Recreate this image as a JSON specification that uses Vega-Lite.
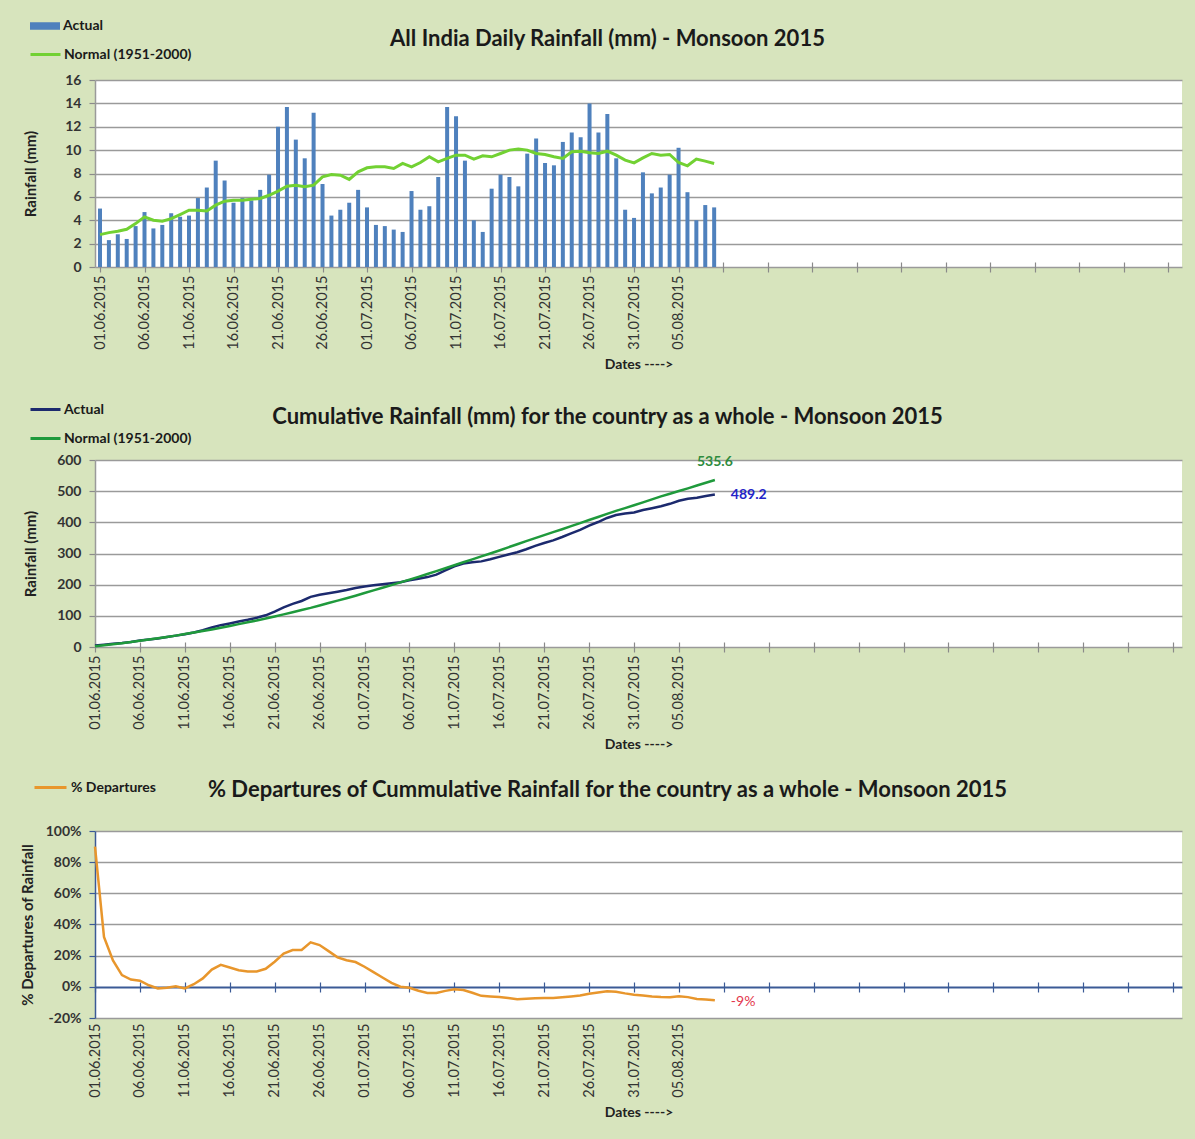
{
  "$schema": "https://vega.github.io/schema/vega-lite/v6.json",
  "background": "#d7e4bd",
  "padding": {"left": 20, "top": 10, "right": 15, "bottom": 40},
  "autosize": {"type": "pad"},
  "config": {
    "font": "Lato",
    "locale": {"number": {"decimal": ".", "thousands": ",", "grouping": [3], "currency": ["$", ""], "minus": "-"}},
    "view": {"fill": "white", "stroke": null},
    "axis": {
      "labelFont": "Lato", "titleFont": "Lato",
      "labelColor": "#333333", "titleColor": "#222222",
      "gridColor": "#9a9a9a", "gridWidth": 1.5,
      "domainColor": "#9a9a9a", "tickColor": "#8a8a8a", "domainWidth": 1.5, "tickWidth": 1.2,
      "labelOverlap": false
    },
    "title": {"font": "Lato", "fontSize": 22, "fontWeight": "bold", "color": "#1a1a1a", "anchor": "middle"},
    "legend": {"labelFont": "Lato", "labelFontSize": 14, "labelFontWeight": "bold", "labelColor": "#1a1a1a"}
  },
  "datasets": {
    "rain": [
      {"date": "2015-06-01", "actual": 5.0, "normal": 2.77, "cum_actual": 5.0, "cum_normal": 2.77, "departure": 0.90},
      {"date": "2015-06-02", "actual": 2.3, "normal": 2.94, "cum_actual": 7.3, "cum_normal": 5.71, "departure": 0.32},
      {"date": "2015-06-03", "actual": 2.8, "normal": 3.06, "cum_actual": 10.1, "cum_normal": 8.77, "departure": 0.17},
      {"date": "2015-06-04", "actual": 2.4, "normal": 3.23, "cum_actual": 12.5, "cum_normal": 12.0, "departure": 0.075},
      {"date": "2015-06-05", "actual": 3.5, "normal": 3.71, "cum_actual": 16.0, "cum_normal": 15.71, "departure": 0.047},
      {"date": "2015-06-06", "actual": 4.7, "normal": 4.29, "cum_actual": 20.7, "cum_normal": 20.0, "departure": 0.039},
      {"date": "2015-06-07", "actual": 3.3, "normal": 4.0, "cum_actual": 24.0, "cum_normal": 24.0, "departure": 0.01},
      {"date": "2015-06-08", "actual": 3.6, "normal": 3.91, "cum_actual": 27.6, "cum_normal": 27.91, "departure": -0.01},
      {"date": "2015-06-09", "actual": 4.6, "normal": 4.14, "cum_actual": 32.2, "cum_normal": 32.05, "departure": -0.006},
      {"date": "2015-06-10", "actual": 4.3, "normal": 4.49, "cum_actual": 36.5, "cum_normal": 36.54, "departure": 0.004},
      {"date": "2015-06-11", "actual": 4.4, "normal": 4.86, "cum_actual": 40.9, "cum_normal": 41.4, "departure": -0.01},
      {"date": "2015-06-12", "actual": 5.9, "normal": 4.86, "cum_actual": 46.8, "cum_normal": 46.26, "departure": 0.017},
      {"date": "2015-06-13", "actual": 6.8, "normal": 4.8, "cum_actual": 53.6, "cum_normal": 51.06, "departure": 0.054},
      {"date": "2015-06-14", "actual": 9.1, "normal": 5.29, "cum_actual": 62.7, "cum_normal": 56.35, "departure": 0.111},
      {"date": "2015-06-15", "actual": 7.4, "normal": 5.63, "cum_actual": 70.1, "cum_normal": 61.98, "departure": 0.141},
      {"date": "2015-06-16", "actual": 5.5, "normal": 5.71, "cum_actual": 75.6, "cum_normal": 67.69, "departure": 0.124},
      {"date": "2015-06-17", "actual": 5.9, "normal": 5.71, "cum_actual": 81.5, "cum_normal": 73.4, "departure": 0.107},
      {"date": "2015-06-18", "actual": 5.7, "normal": 5.8, "cum_actual": 87.2, "cum_normal": 79.2, "departure": 0.099},
      {"date": "2015-06-19", "actual": 6.6, "normal": 5.86, "cum_actual": 93.8, "cum_normal": 85.06, "departure": 0.099},
      {"date": "2015-06-20", "actual": 7.9, "normal": 6.14, "cum_actual": 101.7, "cum_normal": 91.2, "departure": 0.116},
      {"date": "2015-06-21", "actual": 12.0, "normal": 6.49, "cum_actual": 113.7, "cum_normal": 97.69, "departure": 0.161},
      {"date": "2015-06-22", "actual": 13.7, "normal": 6.91, "cum_actual": 127.4, "cum_normal": 104.6, "departure": 0.214},
      {"date": "2015-06-23", "actual": 10.9, "normal": 7.0, "cum_actual": 138.3, "cum_normal": 111.6, "departure": 0.236},
      {"date": "2015-06-24", "actual": 9.3, "normal": 6.86, "cum_actual": 147.6, "cum_normal": 118.46, "departure": 0.236},
      {"date": "2015-06-25", "actual": 13.2, "normal": 7.0, "cum_actual": 160.8, "cum_normal": 125.46, "departure": 0.285},
      {"date": "2015-06-26", "actual": 7.1, "normal": 7.71, "cum_actual": 167.9, "cum_normal": 133.17, "departure": 0.268},
      {"date": "2015-06-27", "actual": 4.4, "normal": 7.91, "cum_actual": 172.3, "cum_normal": 141.08, "departure": 0.229},
      {"date": "2015-06-28", "actual": 4.9, "normal": 7.85, "cum_actual": 177.2, "cum_normal": 148.93, "departure": 0.189},
      {"date": "2015-06-29", "actual": 5.5, "normal": 7.49, "cum_actual": 182.7, "cum_normal": 156.42, "departure": 0.171},
      {"date": "2015-06-30", "actual": 6.6, "normal": 8.14, "cum_actual": 189.3, "cum_normal": 164.56, "departure": 0.159},
      {"date": "2015-07-01", "actual": 5.1, "normal": 8.49, "cum_actual": 194.4, "cum_normal": 173.05, "departure": 0.129},
      {"date": "2015-07-02", "actual": 3.6, "normal": 8.57, "cum_actual": 198.0, "cum_normal": 181.62, "departure": 0.094},
      {"date": "2015-07-03", "actual": 3.5, "normal": 8.57, "cum_actual": 201.5, "cum_normal": 190.19, "departure": 0.06},
      {"date": "2015-07-04", "actual": 3.2, "normal": 8.43, "cum_actual": 204.7, "cum_normal": 198.62, "departure": 0.025},
      {"date": "2015-07-05", "actual": 3.0, "normal": 8.86, "cum_actual": 207.7, "cum_normal": 207.48, "departure": 0.001},
      {"date": "2015-07-06", "actual": 6.5, "normal": 8.57, "cum_actual": 214.2, "cum_normal": 216.05, "departure": -0.006},
      {"date": "2015-07-07", "actual": 4.9, "normal": 8.94, "cum_actual": 219.1, "cum_normal": 224.99, "departure": -0.025},
      {"date": "2015-07-08", "actual": 5.2, "normal": 9.43, "cum_actual": 224.3, "cum_normal": 234.42, "departure": -0.039},
      {"date": "2015-07-09", "actual": 7.7, "normal": 9.0, "cum_actual": 232.0, "cum_normal": 243.42, "departure": -0.04},
      {"date": "2015-07-10", "actual": 13.7, "normal": 9.29, "cum_actual": 245.7, "cum_normal": 252.71, "departure": -0.026},
      {"date": "2015-07-11", "actual": 12.9, "normal": 9.57, "cum_actual": 258.6, "cum_normal": 262.28, "departure": -0.015},
      {"date": "2015-07-12", "actual": 9.1, "normal": 9.57, "cum_actual": 267.7, "cum_normal": 271.85, "departure": -0.02},
      {"date": "2015-07-13", "actual": 4.0, "normal": 9.23, "cum_actual": 271.7, "cum_normal": 281.08, "departure": -0.038},
      {"date": "2015-07-14", "actual": 3.0, "normal": 9.51, "cum_actual": 274.7, "cum_normal": 290.59, "departure": -0.058},
      {"date": "2015-07-15", "actual": 6.7, "normal": 9.43, "cum_actual": 281.4, "cum_normal": 300.02, "departure": -0.062},
      {"date": "2015-07-16", "actual": 7.9, "normal": 9.71, "cum_actual": 289.3, "cum_normal": 309.73, "departure": -0.065},
      {"date": "2015-07-17", "actual": 7.7, "normal": 10.0, "cum_actual": 297.0, "cum_normal": 319.73, "departure": -0.072},
      {"date": "2015-07-18", "actual": 6.9, "normal": 10.09, "cum_actual": 303.9, "cum_normal": 329.82, "departure": -0.079},
      {"date": "2015-07-19", "actual": 9.7, "normal": 10.0, "cum_actual": 313.6, "cum_normal": 339.82, "departure": -0.077},
      {"date": "2015-07-20", "actual": 11.0, "normal": 9.71, "cum_actual": 324.6, "cum_normal": 349.53, "departure": -0.074},
      {"date": "2015-07-21", "actual": 8.9, "normal": 9.63, "cum_actual": 333.5, "cum_normal": 359.16, "departure": -0.072},
      {"date": "2015-07-22", "actual": 8.7, "normal": 9.43, "cum_actual": 342.2, "cum_normal": 368.59, "departure": -0.071},
      {"date": "2015-07-23", "actual": 10.7, "normal": 9.29, "cum_actual": 352.9, "cum_normal": 377.88, "departure": -0.067},
      {"date": "2015-07-24", "actual": 11.5, "normal": 9.86, "cum_actual": 364.4, "cum_normal": 387.74, "departure": -0.062},
      {"date": "2015-07-25", "actual": 11.1, "normal": 9.91, "cum_actual": 375.5, "cum_normal": 397.65, "departure": -0.056},
      {"date": "2015-07-26", "actual": 14.0, "normal": 9.77, "cum_actual": 389.5, "cum_normal": 407.42, "departure": -0.044},
      {"date": "2015-07-27", "actual": 11.5, "normal": 9.71, "cum_actual": 401.0, "cum_normal": 417.13, "departure": -0.036},
      {"date": "2015-07-28", "actual": 13.1, "normal": 9.91, "cum_actual": 414.1, "cum_normal": 427.04, "departure": -0.029},
      {"date": "2015-07-29", "actual": 9.3, "normal": 9.57, "cum_actual": 423.4, "cum_normal": 436.61, "departure": -0.031},
      {"date": "2015-07-30", "actual": 4.9, "normal": 9.14, "cum_actual": 428.3, "cum_normal": 445.75, "departure": -0.042},
      {"date": "2015-07-31", "actual": 4.2, "normal": 8.91, "cum_actual": 431.5, "cum_normal": 454.66, "departure": -0.051},
      {"date": "2015-08-01", "actual": 8.1, "normal": 9.34, "cum_actual": 439.3, "cum_normal": 464.0, "departure": -0.055},
      {"date": "2015-08-02", "actual": 6.3, "normal": 9.71, "cum_actual": 445.3, "cum_normal": 473.71, "departure": -0.062},
      {"date": "2015-08-03", "actual": 6.8, "normal": 9.57, "cum_actual": 451.8, "cum_normal": 483.28, "departure": -0.066},
      {"date": "2015-08-04", "actual": 7.9, "normal": 9.63, "cum_actual": 459.4, "cum_normal": 491.9, "departure": -0.067},
      {"date": "2015-08-05", "actual": 10.2, "normal": 8.94, "cum_actual": 469.4, "cum_normal": 500.6, "departure": -0.061},
      {"date": "2015-08-06", "actual": 6.4, "normal": 8.66, "cum_actual": 475.5, "cum_normal": 509.1, "departure": -0.066},
      {"date": "2015-08-07", "actual": 4.0, "normal": 9.23, "cum_actual": 479.2, "cum_normal": 518.1, "departure": -0.078},
      {"date": "2015-08-08", "actual": 5.3, "normal": 9.06, "cum_actual": 484.2, "cum_normal": 526.9, "departure": -0.082},
      {"date": "2015-08-09", "actual": 5.1, "normal": 8.86, "cum_actual": 489.2, "cum_normal": 535.6, "departure": -0.0866}
    ]
  },
  "bounds": "flush",
  "spacing": 193,
  "resolve": {"scale": {"fill": "independent", "stroke": "independent", "x": "independent", "y": "independent"}, "legend": {"fill": "independent", "stroke": "independent"}},
  "vconcat": [
    {
      "width": 1087, "height": 187,
      "title": {"text": "All India Daily Rainfall (mm) - Monsoon 2015", "dx": -31, "offset": -41},
      "data": {"name": "rain"},
      "layer": [
        {
          "mark": {"type": "bar", "size": 4, "color": "#4f81bd"},
          "encoding": {
            "x": {"field": "date", "type": "temporal",
              "scale": {"type": "utc", "domain": [{"year": 2015, "month": 6, "date": 1, "utc": true}, {"year": 2015, "month": 9, "date": 30, "utc": true}]},
              "axis": {"title": "Dates ---->", "titleFontSize": 14, "titleFontWeight": "bold", "titlePadding": 8,
                "domain": false, "grid": false, "offset": -5, "tickSize": 10, "labelPadding": 3, "labelAngle": -90, "labelFontSize": 14.5,
                "labelExpr": "datum.value <= utc(2015,7,5) ? utcFormat(datum.value, '%d.%m.%Y') : ''",
                "values": [
                  {"year": 2015, "month": 6, "date": 1, "utc": true}, {"year": 2015, "month": 6, "date": 6, "utc": true},
                  {"year": 2015, "month": 6, "date": 11, "utc": true}, {"year": 2015, "month": 6, "date": 16, "utc": true},
                  {"year": 2015, "month": 6, "date": 21, "utc": true}, {"year": 2015, "month": 6, "date": 26, "utc": true},
                  {"year": 2015, "month": 7, "date": 1, "utc": true}, {"year": 2015, "month": 7, "date": 6, "utc": true},
                  {"year": 2015, "month": 7, "date": 11, "utc": true}, {"year": 2015, "month": 7, "date": 16, "utc": true},
                  {"year": 2015, "month": 7, "date": 21, "utc": true}, {"year": 2015, "month": 7, "date": 26, "utc": true},
                  {"year": 2015, "month": 7, "date": 31, "utc": true}, {"year": 2015, "month": 8, "date": 5, "utc": true},
                  {"year": 2015, "month": 8, "date": 10, "utc": true}, {"year": 2015, "month": 8, "date": 15, "utc": true},
                  {"year": 2015, "month": 8, "date": 20, "utc": true}, {"year": 2015, "month": 8, "date": 25, "utc": true},
                  {"year": 2015, "month": 8, "date": 30, "utc": true}, {"year": 2015, "month": 9, "date": 4, "utc": true},
                  {"year": 2015, "month": 9, "date": 9, "utc": true}, {"year": 2015, "month": 9, "date": 14, "utc": true},
                  {"year": 2015, "month": 9, "date": 19, "utc": true}, {"year": 2015, "month": 9, "date": 24, "utc": true},
                  {"year": 2015, "month": 9, "date": 29, "utc": true}
                ]}},
            "y": {"field": "actual", "type": "quantitative", "scale": {"domain": [0, 16], "nice": false},
              "axis": {"values": [0, 2, 4, 6, 8, 10, 12, 14, 16], "tickCount": 10, "title": "Rainfall  (mm)", "titleFontSize": 15, "titleFontWeight": "bold", "titlePadding": 26,
                "labelFontSize": 14, "labelFontWeight": "bold", "tickSize": 6, "labelPadding": 8}},
            "fill": {"datum": "Actual", "type": "nominal", "scale": {"range": ["#4f81bd"]},
              "legend": {"title": null, "orient": "none", "legendX": -66, "legendY": -70, "symbolType": "M-1,-0.25H1V0.25H-1Z", "symbolSize": 900, "labelOffset": 2}}
          }
        },
        {
          "mark": {"type": "line", "strokeWidth": 3},
          "encoding": {
            "x": {"field": "date", "type": "temporal"},
            "y": {"field": "normal", "type": "quantitative"},
            "stroke": {"datum": "Normal (1951-2000)", "type": "nominal", "scale": {"range": ["#72d133"]},
              "legend": {"title": null, "orient": "none", "legendX": -66, "legendY": -42, "symbolType": "stroke", "symbolSize": 900, "symbolStrokeWidth": 3, "labelOffset": 2}}
          }
        }
      ]
    },
    {
      "bounds": "flush",
      "spacing": 184,
      "resolve": {"scale": {"fill": "independent", "stroke": "independent", "x": "independent", "y": "independent"}, "legend": {"fill": "independent", "stroke": "independent"}},
      "vconcat": [
        {
          "width": 1087, "height": 187,
          "title": {"text": "Cumulative Rainfall (mm) for the country as a whole - Monsoon 2015", "dx": -31, "offset": -36},
          "data": {"name": "rain"},
          "layer": [
            {
              "mark": {"type": "line", "strokeWidth": 2.5},
              "encoding": {
                "x": {"field": "date", "type": "temporal",
                  "scale": {"type": "utc", "domain": [{"year": 2015, "month": 6, "date": 1, "utc": true}, {"year": 2015, "month": 9, "date": 30, "utc": true}]},
                  "axis": {"title": "Dates ---->", "titleFontSize": 14, "titleFontWeight": "bold", "titlePadding": 8,
                    "domain": false, "grid": false, "offset": -5, "tickSize": 10, "labelPadding": 3, "labelAngle": -90, "labelFontSize": 14.5,
                    "labelExpr": "datum.value <= utc(2015,7,5) ? utcFormat(datum.value, '%d.%m.%Y') : ''",
                    "values": [
                      {"year": 2015, "month": 6, "date": 1, "utc": true}, {"year": 2015, "month": 6, "date": 6, "utc": true},
                      {"year": 2015, "month": 6, "date": 11, "utc": true}, {"year": 2015, "month": 6, "date": 16, "utc": true},
                      {"year": 2015, "month": 6, "date": 21, "utc": true}, {"year": 2015, "month": 6, "date": 26, "utc": true},
                      {"year": 2015, "month": 7, "date": 1, "utc": true}, {"year": 2015, "month": 7, "date": 6, "utc": true},
                      {"year": 2015, "month": 7, "date": 11, "utc": true}, {"year": 2015, "month": 7, "date": 16, "utc": true},
                      {"year": 2015, "month": 7, "date": 21, "utc": true}, {"year": 2015, "month": 7, "date": 26, "utc": true},
                      {"year": 2015, "month": 7, "date": 31, "utc": true}, {"year": 2015, "month": 8, "date": 5, "utc": true},
                      {"year": 2015, "month": 8, "date": 10, "utc": true}, {"year": 2015, "month": 8, "date": 15, "utc": true},
                      {"year": 2015, "month": 8, "date": 20, "utc": true}, {"year": 2015, "month": 8, "date": 25, "utc": true},
                      {"year": 2015, "month": 8, "date": 30, "utc": true}, {"year": 2015, "month": 9, "date": 4, "utc": true},
                      {"year": 2015, "month": 9, "date": 9, "utc": true}, {"year": 2015, "month": 9, "date": 14, "utc": true},
                      {"year": 2015, "month": 9, "date": 19, "utc": true}, {"year": 2015, "month": 9, "date": 24, "utc": true},
                      {"year": 2015, "month": 9, "date": 29, "utc": true}
                    ]}},
                "y": {"field": "cum_actual", "type": "quantitative", "scale": {"domain": [0, 600], "nice": false},
                  "axis": {"values": [0, 100, 200, 300, 400, 500, 600], "tickCount": 10, "title": "Rainfall  (mm)", "titleFontSize": 15, "titleFontWeight": "bold", "titlePadding": 18,
                    "labelFontSize": 14, "labelFontWeight": "bold", "tickSize": 6, "labelPadding": 8}},
                "stroke": {"datum": "Actual", "type": "nominal",
                  "scale": {"domain": ["Actual", "Normal (1951-2000)"], "range": ["#1c2a6e", "#1f9a3c"]},
                  "legend": {"title": null, "orient": "none", "legendX": -66, "legendY": -67, "symbolType": "stroke", "symbolSize": 900, "symbolStrokeWidth": 3, "labelOffset": 2, "rowPadding": 5}}
              }
            },
            {
              "mark": {"type": "line", "strokeWidth": 2.5},
              "encoding": {
                "x": {"field": "date", "type": "temporal"},
                "y": {"field": "cum_normal", "type": "quantitative"},
                "stroke": {"datum": "Normal (1951-2000)", "type": "nominal"}
              }
            },
            {
              "transform": [{"filter": {"field": "date", "equal": {"year": 2015, "month": 8, "date": 9, "utc": true}}}],
              "mark": {"type": "text", "align": "center", "baseline": "alphabetic", "dy": -14, "fontSize": 14, "fontWeight": "bold", "color": "#2e8b3e", "font": "Lato"},
              "encoding": {
                "x": {"field": "date", "type": "temporal"},
                "y": {"field": "cum_normal", "type": "quantitative"},
                "text": {"field": "cum_normal", "type": "quantitative", "format": ".1f"}
              }
            },
            {
              "transform": [{"filter": {"field": "date", "equal": {"year": 2015, "month": 8, "date": 9, "utc": true}}}],
              "mark": {"type": "text", "align": "left", "baseline": "middle", "dx": 16, "fontSize": 14, "fontWeight": "bold", "color": "#2424c8", "font": "Lato"},
              "encoding": {
                "x": {"field": "date", "type": "temporal"},
                "y": {"field": "cum_actual", "type": "quantitative"},
                "text": {"field": "cum_actual", "type": "quantitative", "format": ".1f"}
              }
            }
          ]
        },
        {
          "width": 1087, "height": 187,
          "title": {"text": "% Departures of Cummulative Rainfall for the country as a whole - Monsoon 2015", "dx": -31, "offset": -32},
          "data": {"name": "rain"},
          "layer": [
            {
              "mark": {"type": "line", "strokeWidth": 2.5},
              "encoding": {
                "x": {"field": "date", "type": "temporal",
                  "scale": {"type": "utc", "domain": [{"year": 2015, "month": 6, "date": 1, "utc": true}, {"year": 2015, "month": 9, "date": 30, "utc": true}]},
                  "axis": {"title": "Dates ---->", "titleFontSize": 14, "titleFontWeight": "bold", "titlePadding": 8,
                    "domain": false, "grid": false, "offset": -36, "tickSize": 10, "labelPadding": 31, "labelAngle": -90, "labelFontSize": 14.5,
                    "tickColor": "#3b5a96",
                    "labelExpr": "datum.value <= utc(2015,7,5) ? utcFormat(datum.value, '%d.%m.%Y') : ''",
                    "values": [
                      {"year": 2015, "month": 6, "date": 1, "utc": true}, {"year": 2015, "month": 6, "date": 6, "utc": true},
                      {"year": 2015, "month": 6, "date": 11, "utc": true}, {"year": 2015, "month": 6, "date": 16, "utc": true},
                      {"year": 2015, "month": 6, "date": 21, "utc": true}, {"year": 2015, "month": 6, "date": 26, "utc": true},
                      {"year": 2015, "month": 7, "date": 1, "utc": true}, {"year": 2015, "month": 7, "date": 6, "utc": true},
                      {"year": 2015, "month": 7, "date": 11, "utc": true}, {"year": 2015, "month": 7, "date": 16, "utc": true},
                      {"year": 2015, "month": 7, "date": 21, "utc": true}, {"year": 2015, "month": 7, "date": 26, "utc": true},
                      {"year": 2015, "month": 7, "date": 31, "utc": true}, {"year": 2015, "month": 8, "date": 5, "utc": true},
                      {"year": 2015, "month": 8, "date": 10, "utc": true}, {"year": 2015, "month": 8, "date": 15, "utc": true},
                      {"year": 2015, "month": 8, "date": 20, "utc": true}, {"year": 2015, "month": 8, "date": 25, "utc": true},
                      {"year": 2015, "month": 8, "date": 30, "utc": true}, {"year": 2015, "month": 9, "date": 4, "utc": true},
                      {"year": 2015, "month": 9, "date": 9, "utc": true}, {"year": 2015, "month": 9, "date": 14, "utc": true},
                      {"year": 2015, "month": 9, "date": 19, "utc": true}, {"year": 2015, "month": 9, "date": 24, "utc": true},
                      {"year": 2015, "month": 9, "date": 29, "utc": true}
                    ]}},
                "y": {"field": "departure", "type": "quantitative", "scale": {"domain": [-0.2, 1.0], "nice": false},
                  "axis": {"values": [-0.2, 0, 0.2, 0.4, 0.6, 0.8, 1.0], "tickCount": 10, "format": ".0%", "title": "% Departures of Rainfall", "titleFontSize": 15, "titleFontWeight": "bold", "titlePadding": 10,
                    "labelFontSize": 14, "labelFontWeight": "bold", "tickSize": 6, "labelPadding": 8,
                    "domainColor": "#3b5a96", "tickColor": "#3b5a96",
                    "gridColor": {"condition": {"test": "datum.value === 0", "value": "#3b5a96"}, "value": "#9a9a9a"},
                    "gridWidth": {"condition": {"test": "datum.value === 0", "value": 2}, "value": 1.5}}},
                "stroke": {"datum": "% Departures", "type": "nominal", "scale": {"range": ["#e8962c"]},
                  "legend": {"title": null, "orient": "none", "legendX": -62, "legendY": -61, "symbolType": "stroke", "symbolSize": 1024, "symbolStrokeWidth": 3, "labelOffset": 3, "labelFontSize": 14}}
              }
            },
            {
              "transform": [{"filter": {"field": "date", "equal": {"year": 2015, "month": 8, "date": 9, "utc": true}}}],
              "mark": {"type": "text", "align": "left", "baseline": "middle", "dx": 16, "dy": 2, "fontSize": 14, "color": "#e3364c", "font": "Lato"},
              "encoding": {
                "x": {"field": "date", "type": "temporal"},
                "y": {"field": "departure", "type": "quantitative"},
                "text": {"field": "departure", "type": "quantitative", "format": ".0%"}
              }
            }
          ]
        }
      ]
    }
  ]
}
